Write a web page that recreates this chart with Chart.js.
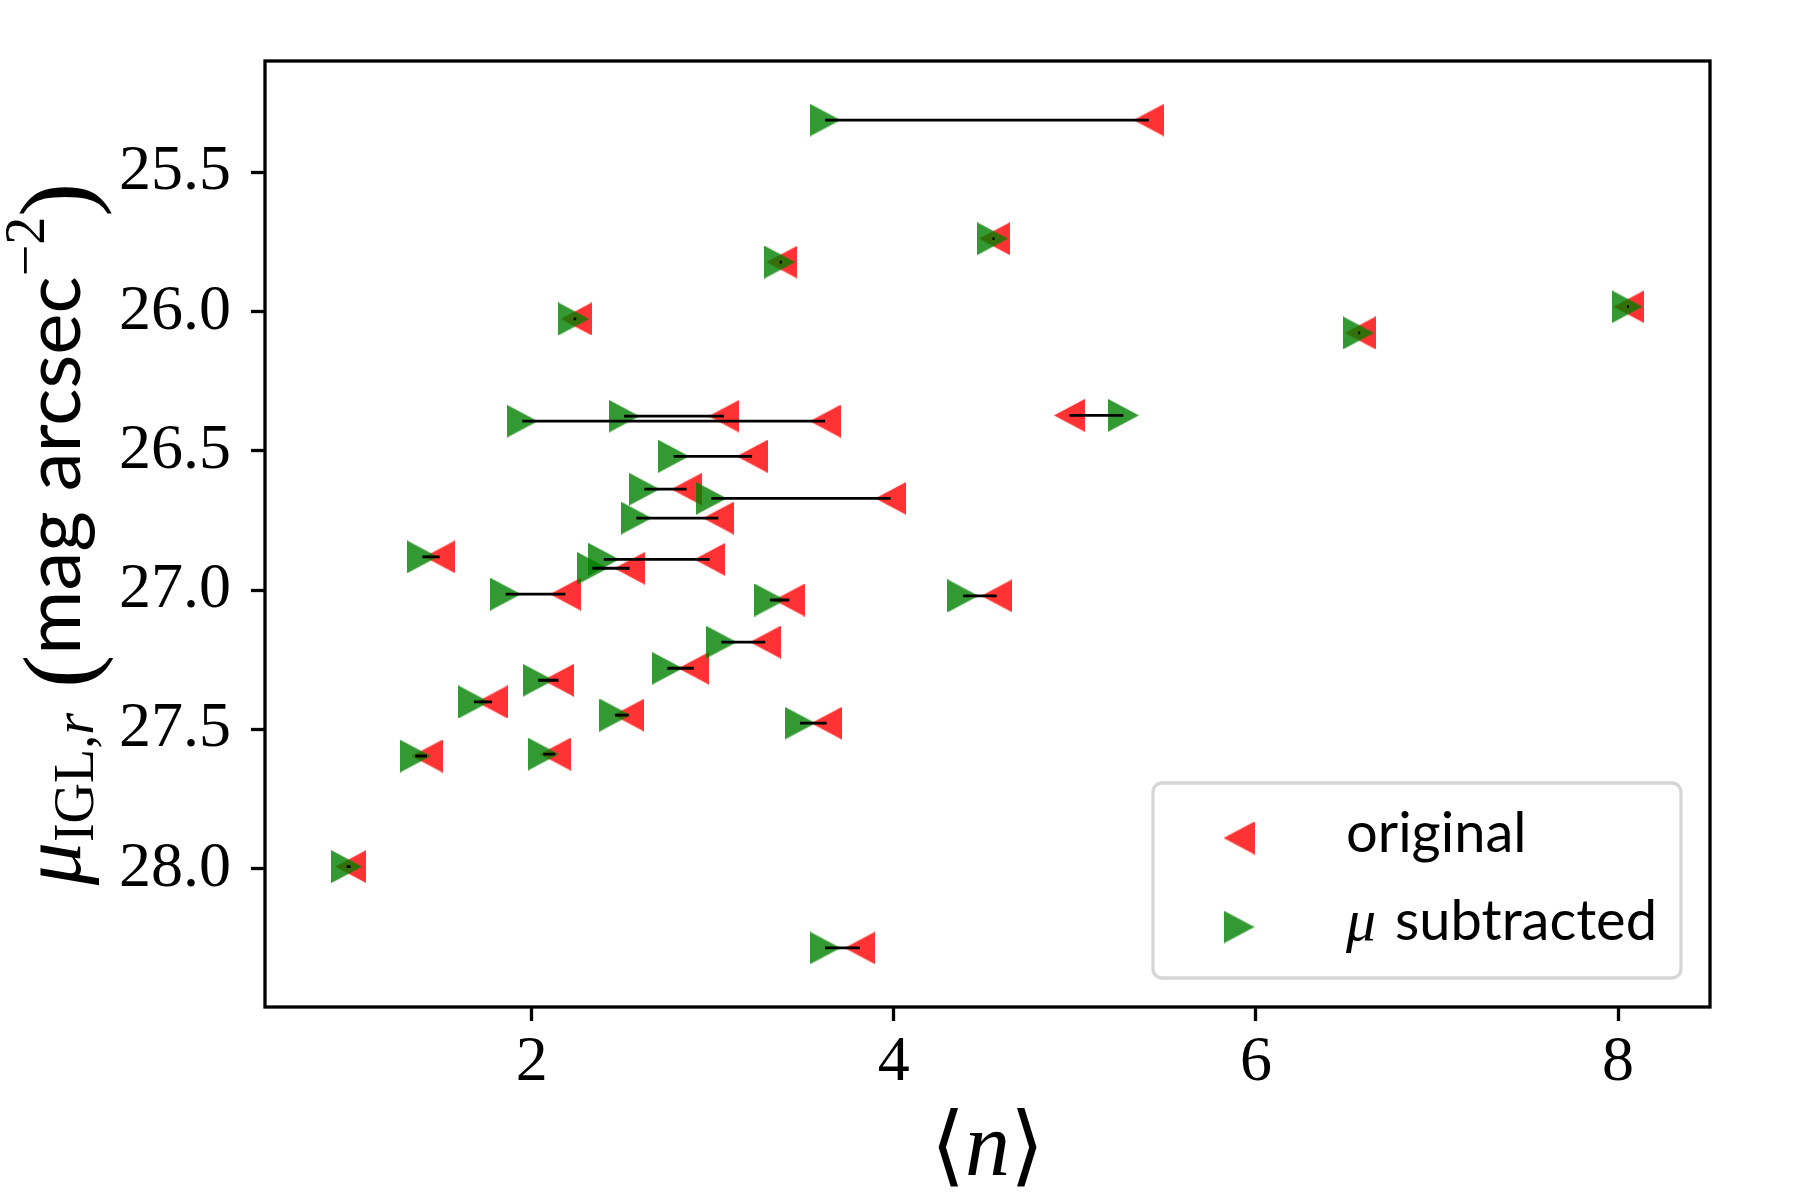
<!DOCTYPE html>
<html>
<head>
<meta charset="utf-8">
<script src="https://cdn.jsdelivr.net/npm/chart.js@4.4.1/dist/chart.umd.min.js"></script>
<style>
    body { margin: 0; background: #fff; }
    #wrap { width: 1800px; height: 1200px; }
</style>
</head>
<body>
<div id="wrap"><canvas id="myChart" width="1800" height="1200"></canvas></div>
<script>
// values, one entry per group
const nOriginal   = [5.409, 4.556, 3.382, 6.576, 8.060, 4.970, 3.621, 3.062, 3.217, 2.856,
                     3.983, 3.031, 2.983, 2.541, 2.186, 3.423, 3.290, 2.895, 2.148, 1.492,
                     1.781, 2.536, 3.629, 1.422, 2.130, 2.246, 1.000, 4.568, 3.813];
const nSubtracted = [3.620, 4.545, 3.370, 6.566, 8.050, 5.268, 1.948, 2.510, 2.784, 2.622,
                     2.992, 2.578, 2.398, 2.335, 1.856, 3.316, 3.047, 2.749, 2.036, 1.396,
                     1.681, 2.460, 3.482, 1.357, 2.064, 2.232, 0.978, 4.382, 3.620];
const muIGL       = [25.312, 25.738, 25.822, 26.076, 25.982, 26.372, 26.393, 26.375, 26.519, 26.637,
                     26.670, 26.741, 26.889, 26.921, 27.014, 27.035, 27.186, 27.280, 27.323, 26.880,
                     27.401, 27.448, 27.477, 27.595, 27.588, 26.026, 27.992, 27.020, 28.284];

const xTicks = [2, 4, 6, 8];
const yTicks = [25.5, 26.0, 26.5, 27.0, 27.5, 28.0];
const xRange = [0.527, 8.508];
const yRange = [25.10, 28.496];
const legendLabels = ['original', 'subtracted'];

const RED = 'rgba(255, 0, 0, 0.8)';
const GREEN = 'rgba(0, 128, 0, 0.8)';

// matplotlib style '<' and '>' markers, centred on their box
function makeTriangle(color, pointLeft) {
    const w = 31, h = 33;
    const c = document.createElement('canvas');
    c.width = w;
    c.height = h;
    const g = c.getContext('2d');
    g.fillStyle = color;
    g.beginPath();
    if (pointLeft) {
        g.moveTo(0, h / 2); g.lineTo(w, 0); g.lineTo(w, h);
    } else {
        g.moveTo(w, h / 2); g.lineTo(0, 0); g.lineTo(0, h);
    }
    g.closePath();
    g.fill();
    return c;
}
const redMarker = makeTriangle(RED, true);
const greenMarker = makeTriangle(GREEN, false);

const originalPts = nOriginal.map((x, i) => ({x: x, y: muIGL[i]}));
const subtractedPts = nSubtracted.map((x, i) => ({x: x, y: muIGL[i]}));
const connectors = [];
for (let i = 0; i < muIGL.length; i++) {
    connectors.push({x: nSubtracted[i], y: muIGL[i]});
    connectors.push({x: nOriginal[i], y: muIGL[i]});
    connectors.push({x: nOriginal[i], y: null});  // break the line
}

// draw a row of text pieces with different fonts, centred on cx
function drawRuns(ctx, runs, cx, baseY) {
    let total = 0;
    runs.forEach(r => { ctx.font = r.font; r.w = ctx.measureText(r.text).width; total += r.w; });
    let x = cx - total / 2;
    runs.forEach(r => {
        ctx.font = r.font;
        ctx.fillText(r.text, x, baseY + (r.dy || 0));
        x += r.w;
    });
}

const decorations = {
    id: 'decorations',
    afterDraw(chart) {
        const ctx = chart.ctx;
        const a = chart.chartArea;
        ctx.save();

        // frame
        ctx.strokeStyle = '#000';
        ctx.lineWidth = 3.3;
        ctx.strokeRect(a.left, a.top, a.right - a.left, a.bottom - a.top);

        // legend
        const bw = 528, bh = 195;
        const bx = a.right - 29 - bw, by = a.bottom - 29 - bh;
        ctx.beginPath();
        ctx.roundRect(bx, by, bw, bh, 9);
        ctx.fillStyle = 'rgba(255,255,255,0.8)';
        ctx.fill();
        ctx.strokeStyle = '#d6d6d6';
        ctx.lineWidth = 3.3;
        ctx.stroke();
        ctx.drawImage(redMarker, bx + 86 - redMarker.width / 2, by + 55 - redMarker.height / 2);
        ctx.drawImage(greenMarker, bx + 86 - greenMarker.width / 2, by + 144 - greenMarker.height / 2);
        ctx.fillStyle = '#000';
        ctx.textBaseline = 'alphabetic';
        ctx.textAlign = 'left';
        ctx.font = '56px Lato';
        ctx.fillText(legendLabels[0], bx + 193, by + 69);
        ctx.font = 'italic 60px "Liberation Serif"';
        ctx.fillText('μ', bx + 193, by + 157);
        const muW = ctx.measureText('μ ').width;
        ctx.font = '56px Lato';
        ctx.fillText(legendLabels[1], bx + 193 + muW + 4, by + 157);

        // x axis title
        drawRuns(ctx, [
            {text: '⟨', font: '88px "DejaVu Serif", "DejaVu Sans"'},
            {text: 'n', font: 'italic 90px "Liberation Serif"'},
            {text: '⟩', font: '88px "DejaVu Serif", "DejaVu Sans"'}
        ], (a.left + a.right) / 2, 1175);

        // y axis title
        ctx.translate(80, (a.top + a.bottom) / 2);
        ctx.rotate(-Math.PI / 2);
        drawRuns(ctx, [
            {text: 'μ', font: 'italic 86px "Liberation Serif"'},
            {text: 'IGL,', font: '56px "Liberation Serif"', dy: 13},
            {text: 'r', font: 'italic 56px "Liberation Serif"', dy: 13},
            {text: '  ', font: '50px "Liberation Serif"'},
            {text: '(', font: '100px "Liberation Serif"', dy: 12},
            {text: 'mag arcsec', font: '78px Lato'},
            {text: '−2', font: '56px "Liberation Serif"', dy: -36},
            {text: ')', font: '102px "Liberation Serif"', dy: 10}
        ], 0, 0);
        ctx.restore();
    }
};

const ctx = document.getElementById('myChart').getContext('2d');
const myChart = new Chart(ctx, {
    type: 'scatter',
    data: {
        datasets: [
            {
                type: 'line',
                data: connectors,
                borderColor: '#000',
                borderWidth: 2.8,
                pointRadius: 0,
                spanGaps: false,
                fill: false,
                order: 0
            },
            {
                label: legendLabels[1],
                data: subtractedPts,
                pointStyle: greenMarker,
                order: 1
            },
            {
                label: legendLabels[0],
                data: originalPts,
                pointStyle: redMarker,
                order: 2
            }
        ]
    },
    options: {
        responsive: false,
        devicePixelRatio: 1,
        animation: false,
        layout: { padding: { top: 61, right: 90, left: 0, bottom: 0 } },
        plugins: {
            legend: { display: false },
            tooltip: { enabled: false }
        },
        scales: {
            x: {
                type: 'linear',
                min: xRange[0],
                max: xRange[1],
                afterBuildTicks: s => { s.ticks = xTicks.map(v => ({value: v})); },
                afterFit: s => { s.height = 193; },
                border: { display: false },
                grid: { drawOnChartArea: false, tickLength: 14, tickWidth: 3.3, tickColor: '#000' },
                ticks: {
                    color: '#000',
                    padding: 4,
                    maxRotation: 0,
                    font: { family: '"Liberation Serif"', size: 64 }
                }
            },
            y: {
                type: 'linear',
                reverse: true,
                min: yRange[0],
                max: yRange[1],
                afterBuildTicks: s => { s.ticks = yTicks.map(v => ({value: v})); },
                afterFit: s => { s.width = 265; },
                border: { display: false },
                grid: { drawOnChartArea: false, tickLength: 14, tickWidth: 3.3, tickColor: '#000' },
                ticks: {
                    color: '#000',
                    padding: 20,
                    callback: v => v.toFixed(1),
                    font: { family: '"Liberation Serif"', size: 64 }
                }
            }
        }
    },
    plugins: [decorations]
});
</script>
</body>
</html>
